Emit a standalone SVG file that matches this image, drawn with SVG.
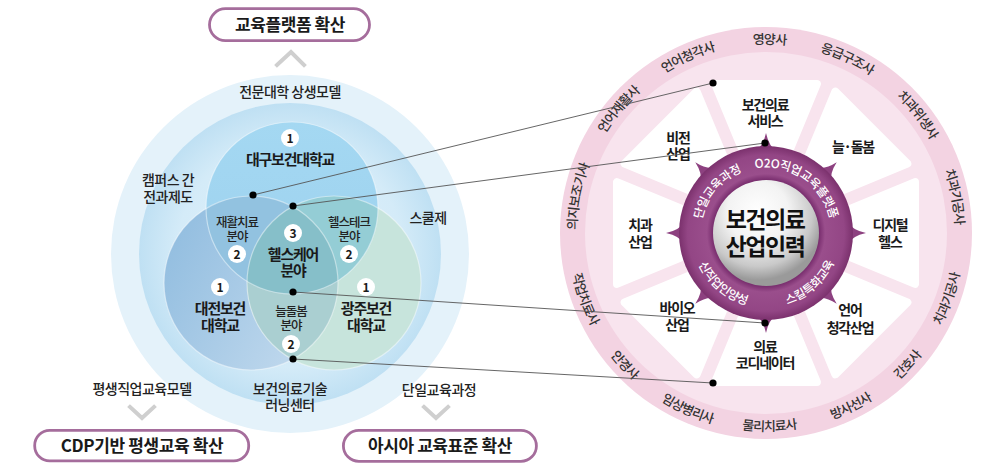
<svg xmlns="http://www.w3.org/2000/svg" xmlns:xlink="http://www.w3.org/1999/xlink" width="998" height="469" viewBox="0 0 998 469">
<style>
.t{font-family:"Noto Sans CJK KR","Noto Sans",sans-serif;text-anchor:middle;fill:#1a1a1a}
.hd{font-size:17px;font-weight:700;letter-spacing:-0.4px}
.lb{font-size:14px;font-weight:500;letter-spacing:-0.5px;fill:#222}
.vb{font-size:15px;font-weight:700;letter-spacing:-1.2px}
.vs{font-size:12.5px;font-weight:500;letter-spacing:-1px;fill:#222}
.bn{font-size:12px;font-weight:700}
.wl{font-size:14px;font-weight:700;letter-spacing:-1.2px}
.wc{font-size:23px;font-weight:700;letter-spacing:-1.5px;fill:#111}
.rl{font-size:13px;font-weight:500;letter-spacing:-0.9px;fill:#333}
.pl{font-size:12px;font-weight:500;fill:#fff;letter-spacing:-0.3px}
.pill{fill:#fff;stroke:#a56d9c;stroke-width:2.8}
.chev{fill:none;stroke:#cfcfcf;stroke-width:4;stroke-linecap:square}
.badge{fill:#fff}
.seg{fill:#fff;stroke:#fff;stroke-width:8;stroke-linejoin:round}
.tooth{fill:#8d4180}
.conn{stroke:#555;stroke-width:0.9;fill:none}
.dot{fill:#000}
.edge{fill:none;stroke:#fff;stroke-opacity:0.45;stroke-width:1.2}
</style>
<defs>
<radialGradient id="ring2" gradientUnits="userSpaceOnUse" cx="290" cy="254" r="151">
<stop offset="0" stop-color="#e2f2fb"/><stop offset="0.75" stop-color="#d4ebf8"/><stop offset="1" stop-color="#bfe0f3"/>
</radialGradient>
<linearGradient id="gL" x1="0" y1="0.3" x2="1" y2="0.85">
<stop offset="0" stop-color="#93bee0"/><stop offset="1" stop-color="#c6dcef"/>
</linearGradient>
<linearGradient id="gT" x1="0" y1="0" x2="0" y2="1">
<stop offset="0" stop-color="#a4d8f2"/><stop offset="1" stop-color="#9dd1ee"/>
</linearGradient>
<radialGradient id="gP" gradientUnits="userSpaceOnUse" cx="766" cy="233" r="87">
<stop offset="0.6" stop-color="#74296a"/><stop offset="0.68" stop-color="#9a4e8c"/><stop offset="0.9" stop-color="#934685"/><stop offset="1" stop-color="#7b316d"/>
</radialGradient>
<radialGradient id="gS" gradientUnits="userSpaceOnUse" cx="758" cy="212" r="68">
<stop offset="0" stop-color="#ffffff"/><stop offset="0.45" stop-color="#f3f3f3"/><stop offset="0.8" stop-color="#c9c9c9"/><stop offset="1" stop-color="#9a9a9a"/>
</radialGradient>
<clipPath id="cL"><circle cx="251" cy="283" r="87"/></clipPath>
<clipPath id="cR"><circle cx="334" cy="283" r="87"/></clipPath>
<polygon id="segShape" class="seg" points="766,207 816.9,84 715.1,84"/>
<path id="toothShape" class="tooth" d="M755,151 Q763,147 766,133 Q769,147 777,151 Z"/>
<path id="rcw" d="M766,422 A189,189 0 1,1 766,44 A189,189 0 1,1 766,422"/>
<path id="rccw" d="M766,35 A198,198 0 1,0 766,431 A198,198 0 1,0 766,35"/>
<path id="icw" d="M766,298.5 A65.5,65.5 0 1,1 766,167.5 A65.5,65.5 0 1,1 766,298.5"/>
<path id="iccw" d="M766,158.5 A74.5,74.5 0 1,0 766,307.5 A74.5,74.5 0 1,0 766,158.5"/>
</defs>

<!-- Venn background -->
<g id="venn-bg">
<circle cx="290" cy="254" r="179" fill="#e4f2fa"/>
<circle cx="290" cy="254" r="151" fill="url(#ring2)"/>
</g>
<g id="venn-circles">
<circle cx="251" cy="283" r="87" fill="url(#gL)"/>
<circle cx="334" cy="283" r="87" fill="#c7e4dc"/>
<circle cx="292" cy="208" r="86" fill="url(#gT)"/>
<circle cx="334" cy="283" r="87" fill="#aacfd1" clip-path="url(#cL)"/>
<circle cx="292" cy="208" r="86" fill="#92c2e0" clip-path="url(#cL)"/>
<circle cx="292" cy="208" r="86" fill="#94cdd5" clip-path="url(#cR)"/>
<g clip-path="url(#cL)"><circle cx="292" cy="208" r="86" fill="#86bfc9" clip-path="url(#cR)"/></g>
<circle class="edge" cx="251" cy="283" r="87"/>
<circle class="edge" cx="334" cy="283" r="87"/>
<circle class="edge" cx="292" cy="208" r="86"/>
</g>

<!-- Header pills -->
<g id="node-platform">
<rect class="pill" x="209.5" y="8.7" width="160" height="32" rx="16"/>
<text class="t hd" x="290" y="31">교육플랫폼 확산</text>
<polyline class="chev" points="277,65 291,52 304,65"/>
</g>
<g id="node-cdp">
<rect class="pill" x="34.7" y="430.4" width="214" height="30.5" rx="15"/>
<text class="t hd" x="142" y="452">CDP기반 평생교육 확산</text>
<polyline class="chev" points="130,407 142,418 154,407"/>
</g>
<g id="node-asia">
<rect class="pill" x="343.4" y="430.4" width="193" height="31" rx="15.5"/>
<text class="t hd" x="440" y="452">아시아 교육표준 확산</text>
<polyline class="chev" points="424,407 436,418 448,407"/>
</g>

<!-- Venn outer labels -->
<g id="venn-labels">
<text class="t lb" x="290" y="97">전문대학 상생모델</text>
<text class="t lb" x="168" y="185"><tspan x="168">캠퍼스 간</tspan><tspan x="168" dy="17">전과제도</tspan></text>
<text class="t lb" x="428" y="223">스쿨제</text>
<text class="t lb" x="142" y="394">평생직업교육모델</text>
<text class="t lb" x="290" y="394"><tspan x="290">보건의료기술</tspan><tspan x="290" dy="16">러닝센터</tspan></text>
<text class="t lb" x="439" y="395">단일교육과정</text>
</g>

<g id="node-daegu">
<circle class="badge" cx="290" cy="138" r="9"/>
<text class="t bn" x="290" y="142.5">1</text>
<text class="t vb" x="290" y="164.5">대구보건대학교</text>
</g>
<g id="node-rehab">
<text class="t vs" x="237" y="226.5"><tspan x="237">재활치료</tspan><tspan x="237" dy="14">분야</tspan></text>
<circle class="badge" cx="237" cy="254" r="9"/>
<text class="t bn" x="237" y="258.5">2</text>
</g>
<g id="node-healthtech">
<text class="t vs" x="349" y="226.5"><tspan x="349">헬스테크</tspan><tspan x="349" dy="14">분야</tspan></text>
<circle class="badge" cx="349" cy="254" r="9"/>
<text class="t bn" x="349" y="258.5">2</text>
</g>
<g id="node-healthcare">
<circle class="badge" cx="293" cy="233" r="9"/>
<text class="t bn" x="293" y="237.5">3</text>
<text class="t vb" x="293" y="259.5"><tspan x="293">헬스케어</tspan><tspan x="293" dy="16">분야</tspan></text>
</g>
<g id="node-daejeon">
<circle class="badge" cx="220" cy="287" r="9"/>
<text class="t bn" x="220" y="291.5">1</text>
<text class="t vb" x="220" y="313.5"><tspan x="220">대전보건</tspan><tspan x="220" dy="17">대학교</tspan></text>
</g>
<g id="node-gwangju">
<circle class="badge" cx="366" cy="287" r="9"/>
<text class="t bn" x="366" y="291.5">1</text>
<text class="t vb" x="366" y="313.5"><tspan x="366">광주보건</tspan><tspan x="366" dy="17">대학교</tspan></text>
</g>
<g id="node-care">
<text class="t vs" x="291" y="315.5"><tspan x="291">늘돌봄</tspan><tspan x="291" dy="14">분야</tspan></text>
<circle class="badge" cx="291" cy="344" r="9"/>
<text class="t bn" x="291" y="348.5">2</text>
</g>

<!-- Wheel -->
<g id="wheel">
<circle cx="766" cy="233" r="206" fill="#f3d3e2"/>
<circle cx="766" cy="233" r="181" fill="#f8e4ee"/>
<g id="segments">
<use xlink:href="#segShape"/>
<use xlink:href="#segShape" transform="rotate(45 766 233)"/>
<use xlink:href="#segShape" transform="rotate(90 766 233)"/>
<use xlink:href="#segShape" transform="rotate(135 766 233)"/>
<use xlink:href="#segShape" transform="rotate(180 766 233)"/>
<use xlink:href="#segShape" transform="rotate(225 766 233)"/>
<use xlink:href="#segShape" transform="rotate(270 766 233)"/>
<use xlink:href="#segShape" transform="rotate(315 766 233)"/>
</g>
<g id="teeth">
<use xlink:href="#toothShape"/>
<use xlink:href="#toothShape" transform="rotate(45 766 233)"/>
<use xlink:href="#toothShape" transform="rotate(90 766 233)"/>
<use xlink:href="#toothShape" transform="rotate(135 766 233)"/>
<use xlink:href="#toothShape" transform="rotate(180 766 233)"/>
<use xlink:href="#toothShape" transform="rotate(225 766 233)"/>
<use xlink:href="#toothShape" transform="rotate(270 766 233)"/>
<use xlink:href="#toothShape" transform="rotate(315 766 233)"/>
</g>
<circle cx="766" cy="233" r="87" fill="url(#gP)"/>
<circle cx="766" cy="233" r="53" fill="url(#gS)"/>
</g>

<g id="ring-labels">
<text class="t rl"><textPath xlink:href="#rcw" startOffset="333.2">의지보조기사</textPath></text>
<text class="t rl"><textPath xlink:href="#rcw" startOffset="428.8">언어재활사</textPath></text>
<text class="t rl"><textPath xlink:href="#rcw" startOffset="514.6">언어청각사</textPath></text>
<text class="t rl"><textPath xlink:href="#rcw" startOffset="597.1">영양사</textPath></text>
<text class="t rl"><textPath xlink:href="#rcw" startOffset="676.2">응급구조사</textPath></text>
<text class="t rl"><textPath xlink:href="#rcw" startOffset="765.3">치과위생사</textPath></text>
<text class="t rl"><textPath xlink:href="#rcw" startOffset="854.4">치과기공사</textPath></text>
<text class="t rl"><textPath xlink:href="#rccw" startOffset="863.9">치과기공사</textPath></text>
<text class="t rl"><textPath xlink:href="#rccw" startOffset="784.5">간호사</textPath></text>
<text class="t rl"><textPath xlink:href="#rccw" startOffset="711.9">방사선사</textPath></text>
<text class="t rl"><textPath xlink:href="#rccw" startOffset="625.5">물리치료사</textPath></text>
<text class="t rl"><textPath xlink:href="#rccw" startOffset="539.1">임상병리사</textPath></text>
<text class="t rl"><textPath xlink:href="#rccw" startOffset="459.6">안경사</textPath></text>
<text class="t rl"><textPath xlink:href="#rccw" startOffset="380.1">작업치료사</textPath></text>
</g>

<g id="purple-labels">
<text class="t pl"><textPath xlink:href="#icw" startOffset="148.6">단일교육과정</textPath></text>
<text class="t pl"><textPath xlink:href="#icw" startOffset="244.1">O2O직업교육플랫폼</textPath></text>
<text class="t pl"><textPath xlink:href="#iccw" startOffset="287.4">스킬특화교육</textPath></text>
<text class="t pl"><textPath xlink:href="#iccw" startOffset="181.4">신직업인양성</textPath></text>
</g>

<g id="node-center">
<text class="t wc" x="765" y="228"><tspan x="765">보건의료</tspan><tspan x="765" dy="27">산업인력</tspan></text>
</g>
<g id="node-service"><text class="t wl" x="765" y="110"><tspan x="765">보건의료</tspan><tspan x="765" dy="15.5">서비스</tspan></text></g>
<g id="node-vision"><text class="t wl" x="678" y="143"><tspan x="678">비전</tspan><tspan x="678" dy="16">산업</tspan></text></g>
<g id="node-elder"><text class="t wl" x="853" y="152">늘·돌봄</text></g>
<g id="node-dental"><text class="t wl" x="640" y="230"><tspan x="640">치과</tspan><tspan x="640" dy="17">산업</tspan></text></g>
<g id="node-digital"><text class="t wl" x="890" y="230"><tspan x="890">디지털</tspan><tspan x="890" dy="17">헬스</tspan></text></g>
<g id="node-bio"><text class="t wl" x="677" y="313"><tspan x="677">바이오</tspan><tspan x="677" dy="17">산업</tspan></text></g>
<g id="node-hearing"><text class="t wl" x="850" y="315"><tspan x="850">언어</tspan><tspan x="850" dy="18">청각산업</tspan></text></g>
<g id="node-coord"><text class="t wl" x="765" y="352"><tspan x="765">의료</tspan><tspan x="765" dy="16">코디네이터</tspan></text></g>

<!-- Connectors -->
<g id="connectors">
<line class="conn" x1="253" y1="195" x2="713" y2="83"/>
<line class="conn" x1="293" y1="206" x2="765" y2="143"/>
<line class="conn" x1="293" y1="292" x2="765" y2="323"/>
<line class="conn" x1="293" y1="359" x2="713" y2="383"/>
<circle class="dot" cx="253" cy="195" r="3.6"/>
<circle class="dot" cx="713" cy="83" r="3.6"/>
<circle class="dot" cx="293" cy="206" r="3.6"/>
<circle class="dot" cx="765" cy="143" r="3.6"/>
<circle class="dot" cx="293" cy="292" r="3.6"/>
<circle class="dot" cx="765" cy="323" r="3.6"/>
<circle class="dot" cx="293" cy="359" r="3.6"/>
<circle class="dot" cx="713" cy="383" r="3.6"/>
</g>
</svg>
